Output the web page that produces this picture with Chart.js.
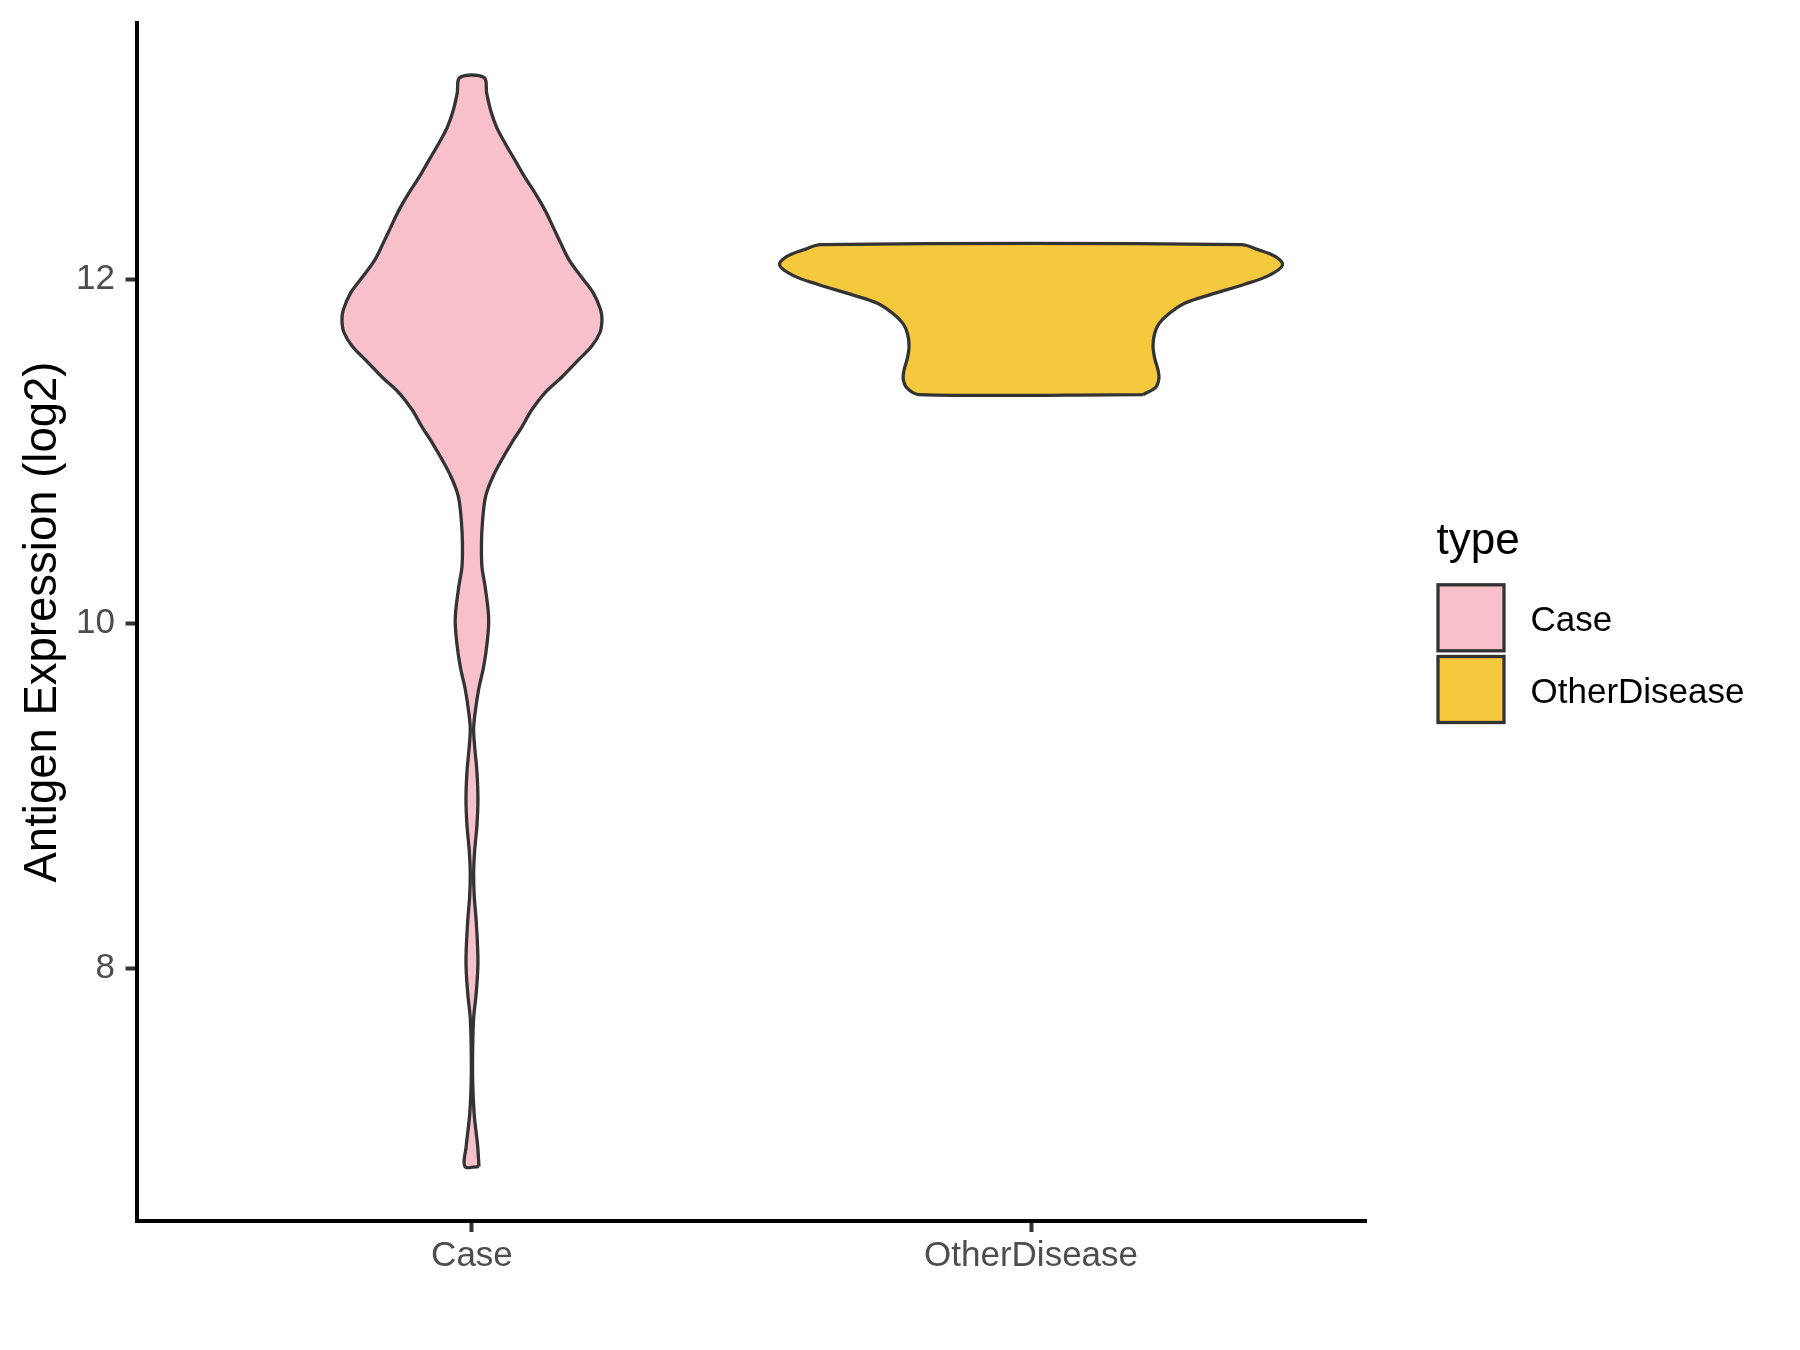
<!DOCTYPE html>
<html>
<head>
<meta charset="utf-8">
<title>Antigen Expression (log2)</title>
<script src="https://cdn.jsdelivr.net/npm/chart.js@4.4.1/dist/chart.umd.min.js"></script>
<style>
  html, body { margin: 0; padding: 0; background: #fff; }
</style>
</head>
<body>
<canvas id="violin" width="1800" height="1350"></canvas>
<script>
const categories = ["Case", "OtherDisease"];
const fillColors = ["#F8C0CB", "#F5C93E"];
const yTicks = [8, 10, 12];

// violin outlines: level (log2 expression) from bottom to top,
// and half width of the violin at that level, in category units
const caseLevels = [6.85, 6.97, 7.15, 7.35, 7.53, 7.71, 7.86, 8.04, 8.27, 8.42,
  8.55, 8.68, 8.83, 8.98, 9.14, 9.29, 9.39, 9.49, 9.62, 9.75,
  9.88, 10.03, 10.21, 10.33, 10.46, 10.59, 10.74, 10.85, 10.95, 11.05,
  11.14, 11.24, 11.34, 11.43, 11.53, 11.61, 11.69, 11.76, 11.82, 11.92,
  12.01, 12.11, 12.21, 12.30, 12.40, 12.50, 12.59, 12.69, 12.79, 12.88,
  12.98, 13.08, 13.17];
const caseHalfWidth = [0.0125, 0.0102, 0.0041, 0.0013, 0.0013, 0.0030, 0.0077, 0.0107, 0.0077, 0.0041,
  0.0030, 0.0048, 0.0089, 0.0107, 0.0089, 0.0048, 0.0030, 0.0059, 0.0120, 0.0209,
  0.0268, 0.0299, 0.0238, 0.0179, 0.0170, 0.0188, 0.0245, 0.0370, 0.0531, 0.0710,
  0.0889, 0.1068, 0.1306, 0.1604, 0.1901, 0.2141, 0.2289, 0.2325, 0.2302, 0.2170,
  0.1962, 0.1740, 0.1586, 0.1454, 0.1306, 0.1127, 0.0948, 0.0769, 0.0590, 0.0442,
  0.0334, 0.0263, 0.0215];

const otherLevels = [11.33, 11.37, 11.42, 11.47, 11.54, 11.61, 11.68, 11.74, 11.80, 11.86,
  11.91, 11.97, 12.02, 12.08, 12.13, 12.17, 12.20];
const otherHalfWidth = [0.201, 0.2225, 0.2286, 0.2273, 0.2212, 0.2182, 0.2207, 0.2286, 0.247, 0.2747,
  0.3207, 0.382, 0.425, 0.4497, 0.4373, 0.4065, 0.376];

const FONT = "'Liberation Sans', Arial, sans-serif";

// right side going up, left side coming down, back to the start
function outline(center, levels, halfWidth) {
  const right = levels.map((y, i) => ({ x: center + halfWidth[i], y: y }));
  const left = levels.map((y, i) => ({ x: center - halfWidth[i], y: y })).reverse();
  return right.concat(left, [right[0]]);
}

// fills each closed violin path before its outline is stroked
const violinFill = {
  id: "violinFill",
  beforeDatasetDraw(chart, args) {
    const meta = args.meta;
    const line = meta.dataset;
    const ctx = chart.ctx;
    line.updateControlPoints(chart.chartArea, meta.iScale.axis);
    ctx.save();
    ctx.beginPath();
    line.path(ctx);
    ctx.closePath();
    ctx.fillStyle = chart.data.datasets[args.index].backgroundColor;
    ctx.fill();
    ctx.restore();
  }
};

// ggplot style legend on the right
const typeLegend = {
  id: "typeLegend",
  afterDraw(chart) {
    const ctx = chart.ctx;
    const x0 = chart.chartArea.right + 70;
    ctx.save();
    ctx.fillStyle = "#000000";
    ctx.font = "44px " + FONT;
    ctx.textAlign = "left";
    ctx.textBaseline = "alphabetic";
    ctx.fillText("type", x0, 554);

    ctx.font = "35px " + FONT;
    ctx.textBaseline = "middle";
    chart.data.datasets.forEach((ds, i) => {
      const top = 584.8 + i * 71.7;
      ctx.fillStyle = ds.backgroundColor;
      ctx.fillRect(x0 + 1.5, top, 66, 66);
      ctx.lineWidth = 3.3;
      ctx.strokeStyle = "#333333";
      ctx.strokeRect(x0 + 1.5, top, 66, 66);
      ctx.fillStyle = "#000000";
      ctx.fillText(ds.label, x0 + 94, top + 37);
    });
    ctx.restore();
  }
};

new Chart(document.getElementById("violin"), {
  type: "line",
  data: {
    datasets: [
      {
        label: categories[0],
        data: outline(1, caseLevels, caseHalfWidth),
        backgroundColor: fillColors[0],
        borderColor: "#333333",
        borderWidth: 3.3,
        tension: 0.35,
        fill: false,
        pointRadius: 0
      },
      {
        label: categories[1],
        data: outline(2, otherLevels, otherHalfWidth),
        backgroundColor: fillColors[1],
        borderColor: "#333333",
        borderWidth: 3.3,
        tension: 0.35,
        fill: false,
        pointRadius: 0
      }
    ]
  },
  options: {
    responsive: false,
    animation: false,
    events: [],
    layout: { padding: { top: 23, right: 433.5, bottom: 0, left: 0 } },
    plugins: {
      legend: { display: false },
      tooltip: { enabled: false }
    },
    scales: {
      x: {
        type: "linear",
        position: "bottom",
        min: 0.4,
        max: 2.6,
        afterBuildTicks: axis => {
          axis.ticks = categories.map((c, i) => ({ value: i + 1 }));
        },
        afterFit: axis => {
          axis.height = 129;
          axis.paddingLeft = 0;
          axis.paddingRight = 0;
        },
        ticks: {
          callback: v => categories[v - 1],
          color: "#4D4D4D",
          font: { family: FONT, size: 35 },
          padding: 3,
          maxRotation: 0,
          autoSkip: false
        },
        grid: {
          display: true,
          drawOnChartArea: false,
          drawTicks: true,
          tickLength: 11,
          tickColor: "#333333",
          tickWidth: 4
        },
        border: { display: true, color: "#000000", width: 4 }
      },
      y: {
        type: "linear",
        position: "left",
        min: 6.534,
        max: 13.486,
        afterBuildTicks: axis => {
          axis.ticks = yTicks.map(v => ({ value: v }));
        },
        afterFit: axis => {
          axis.width = 136.5;
          axis.paddingTop = 0;
          axis.paddingBottom = 0;
        },
        title: {
          display: true,
          text: "Antigen Expression (log2)",
          color: "#000000",
          font: { family: FONT, size: 45.5 },
          padding: { top: 16, bottom: 0 }
        },
        ticks: {
          color: "#4D4D4D",
          font: { family: FONT, size: 35 },
          padding: 10.5
        },
        grid: {
          display: true,
          drawOnChartArea: false,
          drawTicks: true,
          tickLength: 11,
          tickColor: "#333333",
          tickWidth: 4
        },
        border: { display: true, color: "#000000", width: 4 }
      }
    }
  },
  plugins: [violinFill, typeLegend]
});
</script>
</body>
</html>
